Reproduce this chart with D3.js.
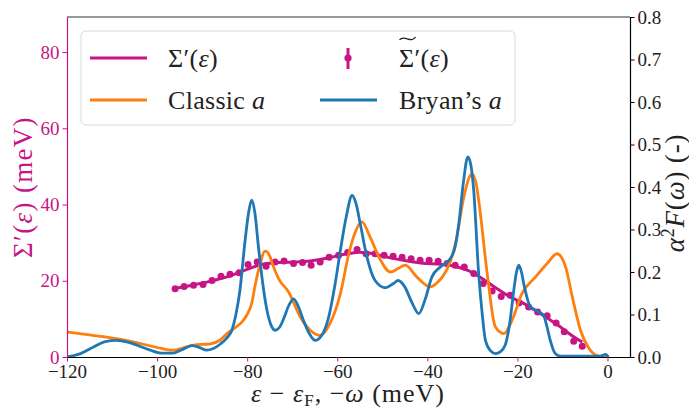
<!DOCTYPE html>
<html>
<head>
<meta charset="utf-8">
<script src="https://cdn.jsdelivr.net/npm/d3@7"></script>
<style>
  body { margin: 0; background: #fff; }
  svg { display: block; }
  text { font-family: "Liberation Serif", "DejaVu Serif", serif; }
</style>
</head>
<body>
<svg id="chart" width="689" height="410"></svg>
<script>
// Real part of the self-energy, fitted curve (meV)
const sigmaX = [-96.2, -92, -88, -84, -80, -77, -74, -70, -66, -62, -58, -55, -52, -49, -45, -41, -37, -34, -31, -28, -25, -22, -18.5, -15, -11.2, -7.5, -5.6];
const sigmaY = [18.0, 18.9, 19.9, 21.2, 23.0, 24.2, 24.7, 24.9, 25.2, 26.0, 27.0, 27.5, 27.1, 26.2, 25.3, 24.6, 24.3, 23.8, 22.7, 20.7, 18.3, 16.0, 14.0, 11.5, 8.5, 5.3, 3.9];

// Measured self-energy points (meV)
const dotX = [-96.0, -94.0, -91.9, -89.8, -87.8, -85.8, -83.8, -81.8, -79.8, -77.8, -75.8, -73.8, -71.8, -69.7, -67.7, -65.8, -63.8, -61.8, -59.7, -57.7, -55.6, -53.6, -51.6, -49.6, -47.6, -45.6, -43.6, -41.6, -39.6, -37.6, -35.6, -33.8, -31.8, -29.7, -27.6, -25.6, -23.6, -21.6, -19.6, -17.5, -15.5, -13.4, -11.4, -9.6, -7.5, -5.6];
const dotY = [17.9, 18.5, 18.8, 19.0, 20.1, 21.2, 21.7, 22.1, 24.3, 24.9, 23.8, 24.9, 25.2, 24.5, 24.8, 24.1, 24.9, 26.2, 26.7, 27.4, 28.2, 27.1, 27.1, 26.7, 26.4, 26.2, 25.8, 25.4, 25.4, 25.1, 24.5, 24.1, 23.6, 21.9, 19.3, 17.3, 15.9, 16.2, 14.2, 13.1, 11.8, 10.8, 8.9, 6.6, 4.1, 2.8];

// Eliashberg function, classic MaxEnt
const classicX = [-120, -115, -109, -103, -99, -96.4, -94, -91.9, -88.2, -86, -84.5, -82.5, -81.2, -80, -79, -78.2, -77.3, -76, -75, -74.5, -73, -70.8, -68.2, -66, -63.8, -61.6, -59.3, -57.5, -56.4, -54.5, -52.7, -50.4, -48.2, -46.5, -44.9, -42.3, -39.3, -37.5, -36.7, -34.9, -33.5, -31.9, -30.1, -29.2, -28.6, -26.7, -24.9, -23, -21.2, -19, -16, -13.4, -11.2, -9.3, -7.8, -6, -4.1, -1.9, 0];
const classicY = [0.059, 0.052, 0.043, 0.030, 0.020, 0.016, 0.022, 0.028, 0.031, 0.040, 0.055, 0.070, 0.082, 0.100, 0.126, 0.170, 0.212, 0.249, 0.238, 0.222, 0.184, 0.153, 0.094, 0.063, 0.051, 0.079, 0.149, 0.240, 0.282, 0.318, 0.282, 0.228, 0.200, 0.208, 0.216, 0.188, 0.165, 0.178, 0.188, 0.224, 0.280, 0.376, 0.431, 0.410, 0.369, 0.196, 0.071, 0.055, 0.086, 0.149, 0.188, 0.220, 0.243, 0.212, 0.141, 0.063, 0.020, 0.002, 0.0];

// Eliashberg function, Bryan's MaxEnt
const bryanX = [-120, -117, -114, -111.5, -109, -106.5, -104, -101.5, -99, -96.5, -94.5, -92.3, -90.5, -89, -87.5, -86, -84.5, -83.4, -82.5, -81.6, -80.5, -79.6, -79, -78.3, -77.5, -76.5, -75.6, -74.7, -73.8, -72.8, -71.9, -70.8, -69.7, -68.6, -67.5, -66.2, -64.9, -63.5, -61.9, -60.5, -59.3, -58, -56.7, -55.8, -54.9, -53.4, -51.6, -49.3, -47.5, -46.5, -45, -43.5, -41.9, -40.5, -39, -37.1, -35, -33.8, -33, -32, -31, -30.3, -29.7, -28.6, -27.8, -27.1, -26, -24.9, -23.8, -22.7, -21.7, -20.8, -20.2, -19.7, -19.1, -18.6, -17.1, -15.3, -14.2, -13.4, -12.7, -11.6, -10.4, -5, -1.6, -0.4, 0.2];
const bryanY = [0.0, 0.008, 0.024, 0.036, 0.039, 0.035, 0.026, 0.016, 0.009, 0.009, 0.017, 0.027, 0.022, 0.016, 0.020, 0.030, 0.045, 0.063, 0.100, 0.157, 0.270, 0.345, 0.369, 0.340, 0.260, 0.170, 0.110, 0.075, 0.063, 0.070, 0.090, 0.120, 0.137, 0.118, 0.086, 0.055, 0.039, 0.050, 0.094, 0.170, 0.251, 0.330, 0.380, 0.360, 0.314, 0.235, 0.180, 0.163, 0.173, 0.180, 0.165, 0.130, 0.102, 0.135, 0.188, 0.212, 0.230, 0.260, 0.314, 0.410, 0.471, 0.450, 0.392, 0.196, 0.100, 0.039, 0.015, 0.008, 0.012, 0.028, 0.080, 0.157, 0.200, 0.216, 0.200, 0.173, 0.118, 0.106, 0.098, 0.070, 0.039, 0.008, 0.002, 0.002, 0.002, 0.006, 0.0];

const xTicks = [-120, -100, -80, -60, -40, -20, 0];
const leftTicks = [0, 20, 40, 60, 80];
const rightTicks = [0.0, 0.1, 0.2, 0.3, 0.4, 0.5, 0.6, 0.7, 0.8];

const MAGENTA = "#c71585", ORANGE = "#ff7f0e", BLUE = "#1f77b4";
const INK = "#222";
const SERIF = "'Liberation Serif', 'DejaVu Serif', serif";

const svg = d3.select("#chart");
const L = 67, R = 630, T = 17, B = 357;

const x = d3.scaleLinear().domain([-120, 5]).range([L, R]);
const yL = d3.scaleLinear().domain([0, 89.2]).range([B, T]);
const yR = d3.scaleLinear().domain([0, 0.8]).range([B, T]);

svg.append("defs").append("clipPath").attr("id", "plotclip")
  .append("rect").attr("x", L).attr("y", T - 2).attr("width", R - L).attr("height", B - T + 2);

const plot = svg.append("g").attr("clip-path", "url(#plotclip)");

const zip = (xs, ys) => xs.map((v, i) => [v, ys[i]]);

// self-energy curve on the left axis
plot.append("path")
  .datum(zip(sigmaX, sigmaY))
  .attr("fill", "none").attr("stroke", MAGENTA).attr("stroke-width", 3)
  .attr("d", d3.line().x(d => x(d[0])).y(d => yL(d[1])).curve(d3.curveMonotoneX));

plot.append("g").selectAll("circle")
  .data(zip(dotX, dotY))
  .join("circle")
  .attr("cx", d => x(d[0])).attr("cy", d => yL(d[1])).attr("r", 3.5)
  .attr("fill", MAGENTA);

// alpha^2 F curves on the right axis
const lineR = d3.line().x(d => x(d[0])).y(d => yR(d[1])).curve(d3.curveMonotoneX);
plot.append("path").datum(zip(classicX, classicY))
  .attr("fill", "none").attr("stroke", ORANGE).attr("stroke-width", 2.8)
  .attr("stroke-linejoin", "round").attr("d", lineR);
plot.append("path").datum(zip(bryanX, bryanY))
  .attr("fill", "none").attr("stroke", BLUE).attr("stroke-width", 2.8)
  .attr("stroke-linejoin", "round").attr("d", lineR);

// axes
const fmtMinus = d => d < 0 ? "\u2212" + Math.abs(d) : String(d);

function styleAxis(g, spine, tick, label) {
  g.attr("font-family", SERIF).attr("font-size", 19);
  g.select(".domain").attr("stroke", spine).attr("stroke-width", 1.2);
  g.selectAll(".tick line").attr("stroke", tick).attr("stroke-width", 1);
  g.selectAll(".tick text").attr("fill", label).attr("font-family", SERIF).attr("font-size", 19);
}

const gx = svg.append("g").attr("transform", `translate(0,${B})`)
  .call(d3.axisBottom(x).tickValues(xTicks).tickFormat(fmtMinus).tickSize(4.5).tickSizeOuter(0).tickPadding(3));
styleAxis(gx, "#000", MAGENTA, INK);

const gl = svg.append("g").attr("transform", `translate(${L},0)`)
  .call(d3.axisLeft(yL).tickValues(leftTicks).tickSize(4.5).tickSizeOuter(0).tickPadding(3));
styleAxis(gl, MAGENTA, MAGENTA, MAGENTA);

const gr = svg.append("g").attr("transform", `translate(${R},0)`)
  .call(d3.axisRight(yR).tickValues(rightTicks).tickFormat(d3.format(".1f")).tickSize(4.5).tickSizeOuter(0).tickPadding(3));
styleAxis(gr, "#000", "#000", INK);

// top spine
svg.append("line").attr("x1", L).attr("x2", R).attr("y1", T).attr("y2", T)
  .attr("stroke", "#333").attr("stroke-width", 1.2);

// axis titles
const leftTitle = svg.append("text")
  .attr("transform", `translate(32,${(T + B) / 2}) rotate(-90)`)
  .attr("text-anchor", "middle").attr("font-size", 27).attr("letter-spacing", 1.3)
  .attr("fill", MAGENTA);
leftTitle.append("tspan").text("\u03A3\u2032(");
leftTitle.append("tspan").attr("font-style", "italic").text("\u03B5");
leftTitle.append("tspan").text(") (meV)");

const rightTitle = svg.append("text")
  .attr("transform", `translate(684,193) rotate(-90)`)
  .attr("text-anchor", "middle").attr("font-size", 27).attr("letter-spacing", 0.8)
  .attr("fill", INK);
rightTitle.append("tspan").attr("font-style", "italic").text("\u03B1");
rightTitle.append("tspan").attr("font-size", 18).attr("dy", -10).text("2");
rightTitle.append("tspan").attr("font-style", "italic").attr("dy", 10).text("F");
rightTitle.append("tspan").text("(");
rightTitle.append("tspan").attr("font-style", "italic").text("\u03C9");
rightTitle.append("tspan").text(") (-)");

const bottomTitle = svg.append("text")
  .attr("x", 348).attr("y", 402)
  .attr("text-anchor", "middle").attr("font-size", 26).attr("letter-spacing", 1)
  .attr("fill", INK);
bottomTitle.append("tspan").attr("font-style", "italic").text("\u03B5");
bottomTitle.append("tspan").text(" \u2212 ");
bottomTitle.append("tspan").attr("font-style", "italic").text("\u03B5");
bottomTitle.append("tspan").attr("font-size", 17).attr("dy", 4).text("F");
bottomTitle.append("tspan").attr("dy", -4).text(", \u2212");
bottomTitle.append("tspan").attr("font-style", "italic").text("\u03C9");
bottomTitle.append("tspan").text(" (meV)");

// legend
const lg = svg.append("g");
lg.append("rect").attr("x", 81).attr("y", 31).attr("width", 434).attr("height", 94)
  .attr("rx", 5).attr("fill", "#fff").attr("fill-opacity", 0.8)
  .attr("stroke", "#d9d9d9").attr("stroke-width", 1);

const row1 = 58, row2 = 100;
const legendFont = 26;

function handleLine(x0, y, color) {
  lg.append("line").attr("x1", x0).attr("x2", x0 + 57).attr("y1", y).attr("y2", y)
    .attr("stroke", color).attr("stroke-width", 3);
}
handleLine(90, row1, MAGENTA);
handleLine(90, row2, ORANGE);
handleLine(320, row2, BLUE);
// error-bar handle
lg.append("line").attr("x1", 348).attr("x2", 348).attr("y1", 48).attr("y2", 69)
  .attr("stroke", MAGENTA).attr("stroke-width", 3);
lg.append("circle").attr("cx", 348).attr("cy", row1).attr("r", 3.6).attr("fill", MAGENTA);

function legendText(xp, y, parts) {
  const t = lg.append("text").attr("x", xp).attr("y", y + 9).attr("font-size", legendFont)
    .attr("letter-spacing", 0.3).attr("fill", INK);
  parts.forEach(p => {
    const s = t.append("tspan").text(p[0]);
    if (p[1]) s.attr("font-style", "italic");
  });
  return t;
}
legendText(168, row1, [["\u03A3\u2032(", false], ["\u03B5", true], [")", false]]);
legendText(168, row2, [["Classic ", false], ["a", true]]);
legendText(399, row1, [["\u03A3\u2032(", false], ["\u03B5", true], [")", false]]);
legendText(399, row2, [["Bryan\u2019s ", false], ["a", true]]);

// wide tilde over the second Sigma
const sigW = 16;
lg.append("path")
  .attr("d", `M${399.5},${40} C${399.5 + sigW * 0.25},${34} ${399.5 + sigW * 0.75},${44} ${399.5 + sigW},${37}`)
  .attr("fill", "none").attr("stroke", INK).attr("stroke-width", 1.3);
</script>
</body>
</html>
